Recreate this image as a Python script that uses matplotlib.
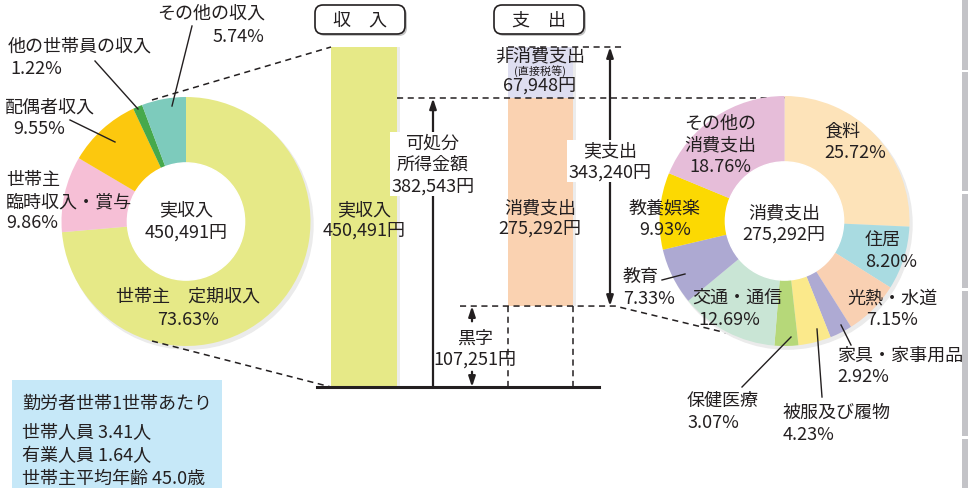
import matplotlib
matplotlib.use("Agg")
import matplotlib.pyplot as plt
from matplotlib.patches import FancyBboxPatch, Rectangle, Circle

plt.rcParams['font.family'] = ['Noto Sans CJK JP', 'DejaVu Sans']

# income breakdown (%), clockwise from 12 o'clock
inc_labels = ['世帯主　定期収入', '世帯主 臨時収入・賞与', '配偶者収入', '他の世帯員の収入', 'その他の収入']
inc_share = [73.63, 9.86, 9.55, 1.22, 5.74]
inc_colors = ['#e6e987', '#f6bfd6', '#fcc80e', '#46a94b', '#7dcbbc']

# consumption breakdown (%), clockwise from 12 o'clock
exp_labels = ['食料', '住居', '光熱・水道', '家具・家事用品', '被服及び履物',
              '保健医療', '交通・通信', '教育', '教養娯楽', 'その他の消費支出']
exp_share = [25.72, 8.20, 7.15, 2.92, 4.23, 3.07, 12.69, 7.33, 9.93, 18.76]
exp_colors = ['#fde3b9', '#a9dbe1', '#f9d0b2', '#aeaad3', '#fbe98b',
              '#b6d879', '#c9e5d5', '#ada9d2', '#fcd902', '#e6bdd9']

# monthly amounts (yen)
real_income = 450491
disposable = 382543
consumption = 275292
non_consumption = 67948
real_expense = 343240
surplus = 107251

TXT = '#231f20'
FS = 13

fig = plt.figure(figsize=(9.68, 4.89), dpi=100)


def fig_rect(x0, y0, w, h):
    # pixel box (top-left origin) -> figure fraction
    return [x0 / 968, (489 - y0 - h) / 489, w / 968, h / 489]


# ---- middle: income / expense bars in yen units ----
axm = fig.add_axes(fig_rect(300, 48, 340, 340))
axm.set_xlim(300, 640)
axm.set_ylim(0, real_income)
axm.axis('off')
axm.bar([366.5], [real_income], width=66, color='#ececec', zorder=1)
axm.bar([364], [real_income], width=66, color='#e6e987', zorder=2)
axm.bar([543], [consumption + non_consumption], width=65, bottom=surplus,
        color='#ececec', zorder=1)
axm.bar([540.5], [consumption], width=65, bottom=surplus, color='#fad2b1', zorder=2)
axm.bar([540.5], [non_consumption], width=65, bottom=disposable, color='#dedef0', zorder=2)

dash = dict(color=TXT, lw=1.1, ls=(0, (4, 3)), clip_on=False)
axm.plot([397, 785], [disposable, disposable], **dash)
axm.plot([508, 622], [real_income, real_income], **dash)
axm.plot([460, 615, 777], [surplus, surplus, surplus - 39 * real_income / 340], **dash)
axm.plot([508, 508], [0, surplus], **dash)
axm.plot([573, 573], [0, surplus], **dash)
axm.plot([317, 599], [0, 0], color=TXT, lw=2.2, clip_on=False, zorder=5)

arr = dict(color=TXT, lw=1.6, shrinkA=0, shrinkB=0)
head = '-|>,head_length=0.6,head_width=0.2'
axm.annotate('', xy=(433, disposable), xytext=(433, 0),
             arrowprops=dict(arrowstyle=head, **arr))
axm.annotate('', xy=(610, real_income), xytext=(610, surplus),
             arrowprops=dict(arrowstyle='<|-|>,head_length=0.6,head_width=0.2', **arr))
# surplus arrow, split around its label
axm.annotate('', xy=(472, surplus), xytext=(0, -11), textcoords='offset points',
             arrowprops=dict(arrowstyle=head, **arr))
axm.annotate('', xy=(472, 0), xytext=(0, 11), textcoords='offset points',
             arrowprops=dict(arrowstyle=head, **arr))


# ---- donuts ----
def donut(cx, cy, r, rin, shares, colors):
    ax = fig.add_axes(fig_rect(cx - r, cy - r, 2 * r, 2 * r))
    ax.add_patch(Circle((0.02, -0.025), 1.0, color='#ebebeb', zorder=0))
    ax.pie(shares, colors=colors, startangle=90, counterclock=False, radius=1,
           wedgeprops=dict(width=1 - rin / r, linewidth=0))
    ax.add_patch(Circle((0, 0), rin / r + 0.005, color='white', zorder=5))
    ax.set_xlim(-1.08, 1.08)
    ax.set_ylim(-1.08, 1.08)
    ax.set_position(fig_rect(cx - r * 1.08, cy - r * 1.08, 2.16 * r, 2.16 * r))
    ax.axis('off')
    return ax


donut(186, 222.5, 124.5, 58, inc_share, inc_colors)
donut(784.5, 222, 125, 58.5, exp_share, exp_colors)

# ---- overlay: texts, leaders, boxes (pixel coords) ----
ax = fig.add_axes([0, 0, 1, 1])
ax.set_xlim(0, 968)
ax.set_ylim(489, 0)
ax.axis('off')


def t(x, y, s, ha='center', fs=FS, **kw):
    ax.text(x, y, s, ha=ha, va='center', fontsize=fs, color=TXT, linespacing=1.25, **kw)


def leader(x0, y0, x1, y1):
    ax.plot([x0, x1], [y0, y1], color=TXT, lw=1.0)


# connectors from income donut to bar
ax.plot([152, 331], [101, 48], color=TXT, lw=1.1, ls=(0, (4, 3)))
ax.plot([152, 331], [342, 388], color=TXT, lw=1.1, ls=(0, (4, 3)))

# income donut labels
t(186, 210, '実収入')
t(186, 233, f'{real_income:,}円')
t(211, 14, inc_labels[4])
t(238, 37, f'{inc_share[4]:.2f}%')
leader(192, 27, 172, 107)
t(8, 47, inc_labels[3], ha='left')
t(10, 69, f'{inc_share[3]:.2f}%', ha='left')
leader(95, 62, 138, 110)
t(5, 108, inc_labels[2], ha='left')
t(13, 129, f'{inc_share[2]:.2f}%', ha='left')
leader(70, 121, 115, 143)
t(6, 202, f'世帯主\n臨時収入・賞与\n{inc_share[1]:.2f}%', ha='left')
t(188, 297, inc_labels[0])
t(188, 320, f'{inc_share[0]:.2f}%')

# header boxes
for cx, s in [(360, '収　入'), (539, '支　出')]:
    ax.add_patch(FancyBboxPatch((cx - 43, 8), 90, 29, boxstyle='round,pad=0,rounding_size=8',
                                fc='#c4c4c4', ec='none', zorder=1))
    ax.add_patch(FancyBboxPatch((cx - 45, 6), 90, 29, boxstyle='round,pad=0,rounding_size=8',
                                fc='white', ec=TXT, lw=1.2, zorder=2))
    t(cx, 21, s, zorder=3)

# middle labels
t(364, 210, '実収入')
t(364, 231, f'{real_income:,}円')
wb = dict(fc='white', ec='none', pad=1)
t(433, 165, f'可処分\n所得金額\n{disposable:,}円', bbox=wb)
t(610, 162, f'実支出\n{real_expense:,}円', bbox=wb)
t(475, 349, f'黒字\n{surplus:,}円')
t(540, 56, '非消費支出')
t(540, 71.5, '(直接税等)', fs=8)
t(540, 86, f'{non_consumption:,}円')
t(540, 208, '消費支出')
t(540, 229, f'{consumption:,}円')

# expense donut labels
t(784, 213, '消費支出')
t(784, 235, f'{consumption:,}円')
t(824, 142, f'{exp_labels[0]}\n{exp_share[0]:.2f}%', ha='left')
t(865, 251, f'{exp_labels[1]}\n{exp_share[1]:.2f}%', ha='left')
t(892, 309, f'{exp_labels[2]}\n{exp_share[2]:.2f}%')
t(837, 366, f'{exp_labels[3]}\n{exp_share[3]:.2f}%', ha='left')
leader(841, 326, 851, 346)
t(783, 424, f'{exp_labels[4]}\n{exp_share[4]:.2f}%', ha='left')
leader(817, 330, 822, 398)
t(687, 412, f'{exp_labels[5]}\n{exp_share[5]:.2f}%', ha='left')
leader(791, 338, 742, 388)
t(737, 298, exp_labels[6])
t(729, 320, f'{exp_share[6]:.2f}%')
t(623, 288, f'{exp_labels[7]}\n{exp_share[7]:.2f}%', ha='left')
leader(662, 281, 685, 275)
t(665, 219, f'{exp_labels[8]}\n{exp_share[8]:.2f}%')
t(720, 145, f'その他の\n消費支出\n{exp_share[9]:.2f}%')

# household info box
ax.add_patch(Rectangle((12, 381), 210, 110, fc='#c6e8f8', ec='none'))
t(22, 404, '勤労者世帯1世帯あたり', ha='left')
t(22, 433, '世帯人員 3.41人', ha='left')
t(22, 456, '有業人員 1.64人', ha='left')
t(22, 479, '世帯主平均年齢 45.0歳', ha='left')

# page edge strip
for y0, y1 in [(0, 71), (73, 192), (195, 289), (292, 437), (440, 489)]:
    ax.add_patch(Rectangle((962, y0), 6, y1 - y0, fc='#c3c3c7', ec='none'))

fig.savefig('out.png', dpi=100)
